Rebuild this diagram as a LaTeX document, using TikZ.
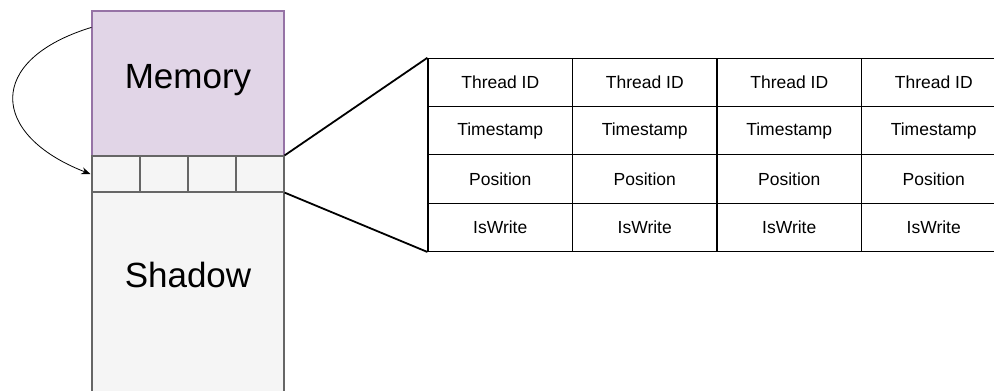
\documentclass[tikz,border=0pt]{standalone}
\usepackage{fontspec}
\setmainfont{Liberation Sans}
\usetikzlibrary{arrows.meta, positioning}
\definecolor{memfill}{HTML}{E1D5E7}
\definecolor{memline}{HTML}{9673A6}
\definecolor{shadowfill}{HTML}{F5F5F5}
\definecolor{shadowline}{HTML}{666666}

\begin{document}
\begin{tikzpicture}[x=1pt, y=-1pt,
        membox/.style={draw=memline, fill=memfill, line width=1.2pt, minimum width=192pt, minimum height=145pt, inner sep=0pt},
        slot/.style={draw=shadowline, fill=shadowfill, line width=1.2pt, minimum width=48pt, minimum height=36pt, inner sep=0pt},
        shadowbox/.style={draw=shadowline, fill=shadowfill, line width=1.2pt, minimum width=192pt, minimum height=250pt, inner sep=0pt},
        field/.style={draw=black, line width=1.2pt, minimum width=144.5pt, minimum height=48.25pt, inner sep=0pt, font=\fontsize{17.5}{20}\selectfont},
        bigtext/.style={font=\fontsize{35}{40}\selectfont},
        zoomline/.style={black, line width=1.8pt},
    ]
        \useasboundingbox (0, 0) rectangle (994, 391);
        \clip (0, 0) rectangle (994, 391);

        % Memory and shadow
        \node[membox] (mem) at (188, 83.5) {};
        \node[bigtext] (memtext) at (188, 80) {Memory};
        \foreach \i in {1,...,4}
            \node[slot] (slot\i) at ({68 + 48*\i}, 174) {};
        \node[shadowbox, anchor=north] (shadow) at (188, 192) {};
        \node[bigtext] (shadowtext) at (188, 275) {Shadow};

        % Shadow entry fields
        \foreach \name [count=\r from 0] in {Thread ID, Timestamp, Position, IsWrite}
            \foreach \c in {0,...,3}
                \node[field] (f\r\c) at ({500.25 + 144.5*\c}, {82.5 + 48.25*\r}) {\name};

        % Connectors
        \draw[zoomline] (slot4.north east) -- (f00.north west);
        \draw[zoomline] (slot4.south east) -- (f30.south west);
        \draw[black, line width=0.8pt, -{Stealth[length=9pt, width=7pt]}]
            ([yshift=-17pt]mem.north west) .. controls (-15, 60) and (-10, 135) .. ([xshift=-1pt]slot1.west);

    \end{tikzpicture}
\end{document}
